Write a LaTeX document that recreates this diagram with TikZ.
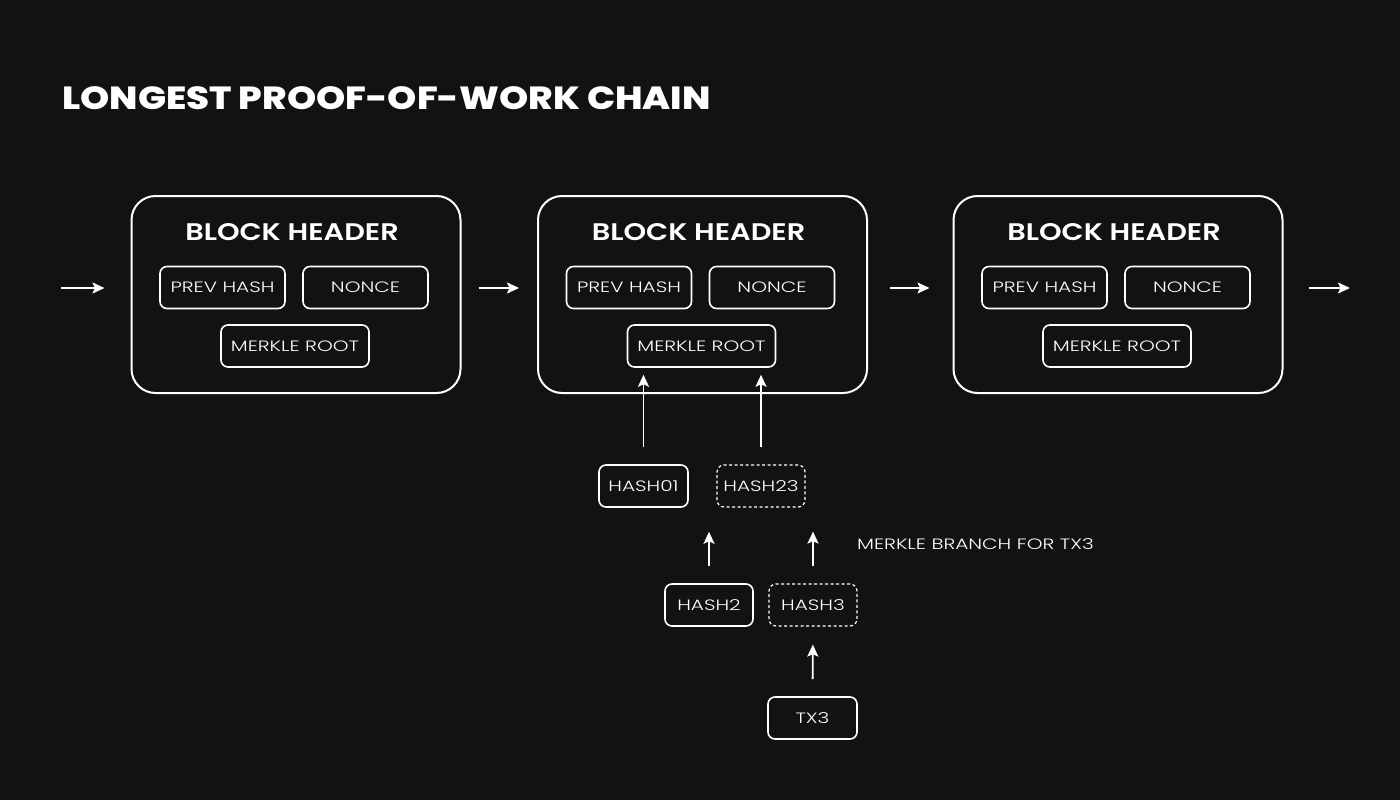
\documentclass[tikz,border=0pt]{standalone}
\usepackage{fontspec}
\setmainfont{Poppins}
\newfontfamily\titlefont[FakeStretch=1.16]{Poppins ExtraBold}
\newfontfamily\headfont[FakeStretch=1.2]{Poppins SemiBold}
\newfontfamily\fieldfont[FakeStretch=1.34]{Poppins Light}
\usetikzlibrary{arrows.meta, calc}
\definecolor{bgcol}{RGB}{18,18,18}

\begin{document}
\begin{tikzpicture}[x=1pt, y=-1pt, >={Stealth[length=12pt,width=11pt,inset=2.5pt]},
    block/.style={draw=white, line width=2pt, rounded corners=24pt, minimum width=329pt, minimum height=197pt, inner sep=0pt},
    field/.style={draw=white, line width=1.6pt, rounded corners=7pt, minimum height=42pt, inner sep=0pt, text=white, font=\fieldfont\fontsize{15}{15}\selectfont},
    branch/.style={field, dashed, dash pattern=on 3pt off 2.5pt, line width=1.2pt},
    head/.style={text=white, font=\headfont\fontsize{24}{24}\selectfont},
    link/.style={->, white, line width=1.8pt}]
  \fill[bgcol] (0,0) rectangle (1400,800);
  \node[text=white, anchor=base west, font=\titlefont\fontsize{32}{32}\selectfont, inner sep=0pt] (title) at (62,110) {LONGEST PROOF-OF-WORK CHAIN};

  \foreach \i/\x in {1/296, 2/702.5, 3/1118}{
    \node[block] (b\i) at (\x,294.5) {};
    \node[head] (t\i) at (\x-4,232) {BLOCK HEADER};
    \node[field, minimum width=125pt] (p\i) at (\x-73.5,287.5) {PREV HASH};
    \node[field, minimum width=125pt] (n\i) at (\x+69.5,287.5) {NONCE};
    \node[field, minimum width=148pt] (m\i) at (\x-1,346) {MERKLE ROOT};
  }

  \coordinate (in) at (61,288);
  \coordinate (out) at (1350,288);
  \draw[link, shorten >=26pt] (in) -- (in -| b1.west);
  \draw[link, shorten <=17pt, shorten >=18pt] (b1.east |- in) -- (b2.west |- in);
  \draw[link, shorten <=22pt, shorten >=23pt] (b2.east |- in) -- (b3.west |- in);
  \draw[link, shorten <=25pt] (b3.east |- out) -- (out);

  \node[field, minimum width=89pt] (h01) at (643.5,486) {HASH01};
  \node[branch, minimum width=88pt] (h23) at (761,486) {HASH23};
  \node[field, minimum width=88pt] (h2) at (709,605) {HASH2};
  \node[branch, minimum width=88pt] (h3) at (813,605) {HASH3};
  \node[field, minimum width=89pt] (tx3) at (812.5,718) {TX3};
  \node[text=white, anchor=west, inner sep=0pt, font=\fieldfont\fontsize{15}{15}\selectfont] (lbl) at (857,544) {MERKLE BRANCH FOR TX3};

  \draw[link, shorten <=17pt, shorten >=7pt] (h01.north) -- (h01.north |- m2.south);
  \draw[link, shorten <=17pt, shorten >=7pt] (h23.north) -- (h23.north |- m2.south);
  \draw[link, shorten <=17pt, shorten >=24pt] (h2.north) -- (h2.north |- h01.south);
  \draw[link, shorten <=17pt, shorten >=24pt] (h3.north) -- (h3.north |- h23.south);
  \draw[link, shorten <=17pt, shorten >=18pt] (tx3.north) -- (h3.south);
\end{tikzpicture}
\end{document}
